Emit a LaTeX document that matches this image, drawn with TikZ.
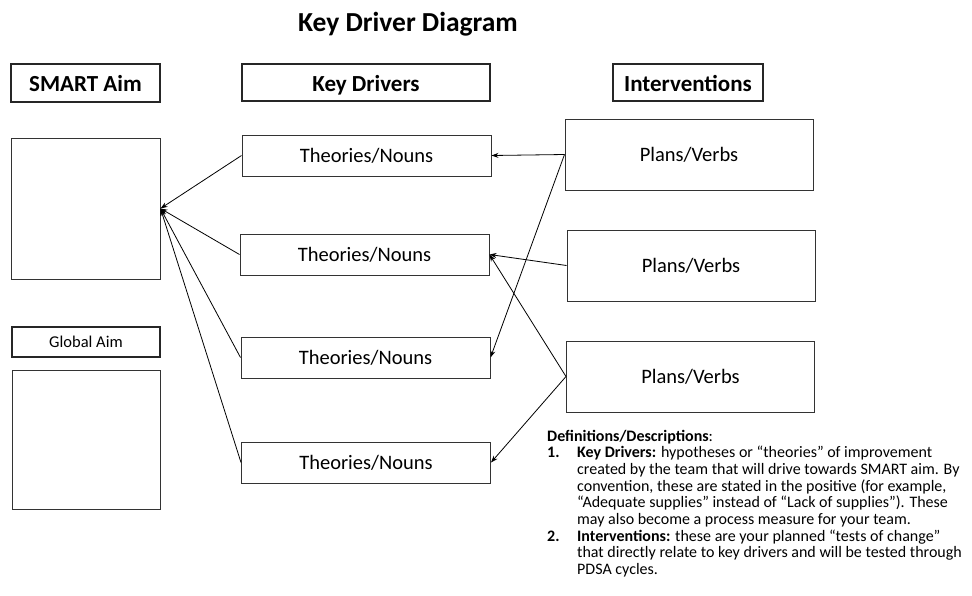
\documentclass[tikz,border=0pt]{standalone}
\usepackage{fontspec}
\setmainfont{Carlito}
\usetikzlibrary{shapes.geometric, arrows, arrows.meta}
\tikzstyle{arrow} = [line width=0.8pt,->,>={Stealth[length=7pt,width=5pt]}]
\tikzstyle{headbox} = [draw=black!85, line width=1.8pt, inner sep=0pt, text height=20pt, text depth=3pt, font=\fontsize{23}{27}\selectfont\bfseries]
\tikzstyle{box} = [draw=black!80, line width=1pt, inner sep=0pt]
\tikzstyle{kdbox} = [box, minimum width=249pt, minimum height=41pt, font=\fontsize{20.5}{24}\selectfont]
\tikzstyle{pvbox} = [box, minimum width=248pt, minimum height=71pt, font=\fontsize{20.5}{24}\selectfont]

\begin{document}
\begin{tikzpicture}[x=1pt,y=-1pt]
\fill[white] (0,0) rectangle (972,595);

\node[font=\fontsize{27.5}{32}\selectfont\bfseries, anchor=base] (title) at (408,31) {Key Driver Diagram};

% column heads
\node[headbox, minimum width=149pt, minimum height=38pt] (hdaim) at (85.5,83) {SMART Aim};
\node[headbox, minimum width=248pt, minimum height=37pt] (hdkd) at (366,82.5) {Key Drivers};
\node[headbox, minimum width=150pt, minimum height=37pt] (hdpv) at (688,82.5) {Interventions};

% aims
\node[box, minimum width=149pt, minimum height=141pt] (aim) at (85.5,208.5) {};
\node[headbox, line width=1.4pt, minimum width=148pt, minimum height=30pt, text height=12pt, text depth=2pt, font=\fontsize{16.5}{19}\selectfont] (gaimhd) at (86,342) {Global Aim};
\node[box, minimum width=148pt, minimum height=139pt] (gaim) at (86,439.5) {};

% key drivers
\node[kdbox] (kd1) at (366.5,155.5) {Theories/Nouns};
\node[kdbox] (kd2) at (364.5,254.5) {Theories/Nouns};
\node[kdbox] (kd3) at (365.5,357.5) {Theories/Nouns};
\node[kdbox] (kd4) at (366,462.5) {Theories/Nouns};

% interventions
\node[pvbox] (pv1) at (689,154.5) {Plans/Verbs};
\node[pvbox] (pv2) at (691,265.5) {Plans/Verbs};
\node[pvbox] (pv3) at (690.5,376.5) {Plans/Verbs};

\foreach \k in {kd1,kd2,kd3,kd4}
  \draw[arrow] (\k.west) -- (aim.east);
\foreach \s/\t in {pv1/kd1,pv1/kd3,pv2/kd2,pv3/kd2,pv3/kd4}
  \draw[arrow] (\s.west) -- (\t.east);

% definitions
\node[anchor=base west, align=left, inner sep=0pt, font=\fontsize{16}{16.7}\selectfont] (defs) at (547,574.6) {%
\textbf{Definitions/Descriptions}:\\
\makebox[30pt][l]{\textbf{1.}}\textbf{Key Drivers:} hypotheses or “theories” of improvement\\
\hspace*{30pt}created by the team that will drive towards SMART aim. By\\
\hspace*{30pt}convention, these are stated in the positive (for example,\\
\hspace*{30pt}“Adequate supplies” instead of “Lack of supplies”). These\\
\hspace*{30pt}may also become a process measure for your team.\\
\makebox[30pt][l]{\textbf{2.}}\textbf{Interventions:} these are your planned “tests of change”\\
\hspace*{30pt}that directly relate to key drivers and will be tested through\\
\hspace*{30pt}PDSA cycles.};
\end{tikzpicture}
\end{document}
